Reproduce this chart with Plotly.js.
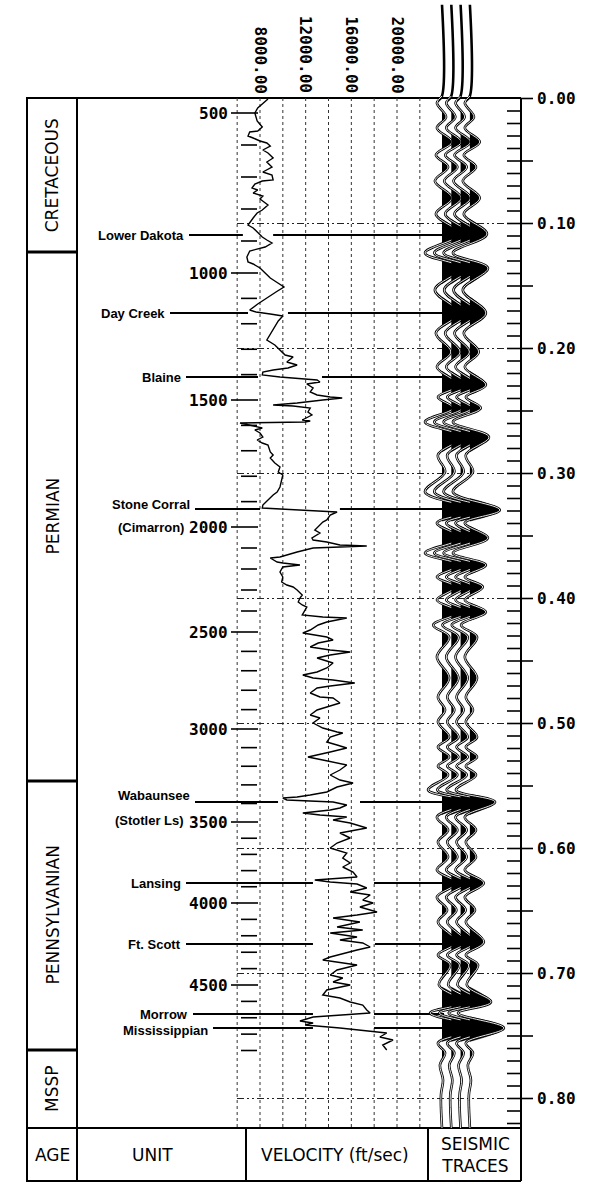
<!DOCTYPE html>
<html><head><meta charset="utf-8">
<script src="https://cdn.plot.ly/plotly-3.0.1.min.js"></script>
<style>html,body{margin:0;padding:0;background:#fff}</style>
</head><body><div id="chart" style="width:596px;height:1185px"></div>
<script>
// ---------------- DATA ----------------
// Interval velocity log (ft/sec) versus two-way time (s)
const velTime = [0.0004,0.0044,0.0076,0.0116,0.018,0.0228,0.026,0.0268,0.030,0.0316,0.034,0.0356,0.038,0.0412,0.0436,0.0476,0.0508,0.0548,0.0588,0.0612,0.0652,0.066,0.0684,0.0716,0.0732,0.0756,0.078,0.0804,0.0852,0.0892,0.0916,0.0956,0.1012,0.1036,0.1076,0.1108,0.1132,0.1156,0.1188,0.1204,0.122,0.1268,0.1308,0.1324,0.1356,0.1396,0.1436,0.146,0.1484,0.1508,0.1548,0.1596,0.1644,0.1692,0.1708,0.1724,0.174,0.178,0.1852,0.1932,0.1972,0.2012,0.2052,0.2068,0.2108,0.2132,0.2156,0.2172,0.2188,0.2212,0.2228,0.2252,0.2268,0.2284,0.2316,0.2348,0.2372,0.2388,0.2396,0.2412,0.2428,0.2436,0.2452,0.246,0.2476,0.2508,0.2532,0.2572,0.258,0.2588,0.2596,0.2612,0.2636,0.2652,0.2676,0.2708,0.2732,0.2756,0.2772,0.2828,0.2852,0.2876,0.2916,0.2948,0.2988,0.3012,0.3052,0.3108,0.3148,0.3172,0.3212,0.3252,0.3276,0.3292,0.3308,0.3332,0.3372,0.3388,0.3428,0.3452,0.3476,0.3516,0.3532,0.3548,0.3572,0.358,0.3588,0.3596,0.3628,0.3668,0.3676,0.3708,0.3716,0.3732,0.3748,0.3788,0.3828,0.3868,0.3892,0.3908,0.3932,0.3972,0.3996,0.4028,0.4052,0.4068,0.4132,0.4148,0.4156,0.4188,0.4212,0.4252,0.4276,0.4292,0.4308,0.4332,0.4356,0.4388,0.4412,0.4428,0.4452,0.4476,0.4516,0.4556,0.4588,0.4612,0.4636,0.4652,0.4676,0.47,0.4716,0.4756,0.4788,0.4796,0.4836,0.4868,0.4892,0.4932,0.4956,0.4996,0.5036,0.5068,0.5076,0.5108,0.5148,0.5172,0.5196,0.5228,0.5252,0.5268,0.5292,0.5316,0.5332,0.5372,0.5412,0.5452,0.5476,0.5508,0.5548,0.5572,0.5588,0.5596,0.5612,0.5628,0.5652,0.5676,0.5692,0.5716,0.5732,0.5748,0.5772,0.5796,0.5836,0.5876,0.5916,0.5956,0.5996,0.6036,0.6076,0.6116,0.6148,0.6188,0.6228,0.6252,0.6268,0.6284,0.6316,0.6348,0.6372,0.6412,0.6436,0.6468,0.6508,0.6532,0.6556,0.6588,0.6628,0.6652,0.6676,0.6708,0.6732,0.6756,0.6788,0.6812,0.6868,0.6892,0.6916,0.6932,0.6972,0.7012,0.7036,0.7068,0.7092,0.7132,0.7172,0.7196,0.7228,0.7252,0.7292,0.7316,0.7348,0.738,0.7396,0.7412,0.7436,0.7452,0.7468,0.7476,0.7508,0.7532,0.7572,0.7612];
const velocity = [8700,8200,7800,7550,7750,8200,7800,7100,6950,7400,8000,8600,8900,8250,8700,9150,8600,9050,8250,9050,9150,8200,7550,7300,7800,7400,8250,8000,8700,8200,7750,7400,6950,7400,7800,8200,8600,9050,8450,7800,7100,6850,6950,7400,8000,8450,8900,9300,9750,10100,9400,8550,7800,7100,7650,8900,10000,9600,9150,8600,9300,9750,10200,10900,10350,11250,10450,9150,8250,8200,9750,13000,13250,12100,12650,12400,13000,14150,15200,13500,12100,11250,9150,10900,12400,12200,12550,11700,12400,11950,6250,7100,8200,7550,8000,8250,7750,8200,8700,8900,9150,8900,9300,9750,9600,10000,9900,9750,9500,9150,8700,8250,8200,11250,14750,14150,13850,13500,13100,12800,13250,12550,12650,13850,15000,17350,15000,12650,11250,9750,8900,9500,10000,11500,10000,9750,10000,9900,10350,10900,11250,11700,11500,11350,11700,12100,11700,13500,15600,13850,13100,12400,11750,12650,13850,14400,13100,12400,14150,15900,14150,13000,14400,13850,13000,11750,12650,14400,16300,14150,13000,12400,13250,14400,15000,13850,13000,12400,13250,12650,13500,14750,15250,14150,13850,14750,15600,14150,13000,12200,13500,14750,15600,15000,14150,15000,16150,14750,13850,12400,11250,10000,10350,14400,15600,15000,14150,11750,13250,15600,14400,15900,17350,15000,15900,14750,14150,15600,15250,15900,15250,16150,16500,12800,14150,16500,17350,15900,17650,17000,17900,16750,18250,16500,14400,16750,14750,17000,14150,16500,15000,17000,17650,16500,14150,13500,15250,16500,14750,14150,15250,14400,15900,13850,13500,15000,15900,17000,17350,17650,12650,11500,12650,11950,15000,16500,18250,19100,18500,19650,18750,19100];

// Synthetic seismic trace: extremes (two-way time s, relative amplitude)
const seisTime = [-0.075,-0.002,0.0036,0.0148,0.0236,0.0348,0.0452,0.0548,0.0660,0.0796,0.0924,0.1084,0.1236,0.1356,0.1532,0.1716,0.1876,0.2028,0.2148,0.2292,0.2388,0.2476,0.2588,0.2708,0.2852,0.2988,0.3148,0.3292,0.3396,0.3516,0.3636,0.3732,0.3828,0.3908,0.4012,0.4108,0.4212,0.4308,0.4468,0.4636,0.4788,0.4892,0.4988,0.5108,0.5188,0.5268,0.5340,0.5412,0.5532,0.5628,0.5748,0.5852,0.5948,0.6068,0.6172,0.6276,0.6388,0.6492,0.6588,0.6748,0.6852,0.6932,0.7092,0.7228,0.7316,0.7436,0.7556,0.7636,0.7732,0.7852,0.7972,0.8236];
const seisAmp = [0,0,-0.15,0.12,-0.15,0.29,-0.18,0.18,-0.21,0.29,-0.18,0.50,-0.50,0.53,-0.21,0.47,-0.18,0.26,-0.15,0.47,-0.12,0.32,-0.50,0.56,-0.12,0.09,-0.50,0.88,-0.15,0.53,-0.50,0.47,-0.15,0.38,-0.15,0.47,-0.26,0.21,-0.15,0.21,-0.12,0.09,-0.12,0.21,-0.12,0.21,-0.12,0.18,-0.41,0.74,-0.15,0.18,-0.12,0.18,-0.15,0.41,-0.15,0.15,-0.12,0.41,-0.12,0.24,-0.09,0.62,-0.35,1.00,-0.12,0.09,-0.06,0.03,-0.03,0];
const seisTraceCount = 4;

// Formation tops
const formationNames = ['Lower Dakota','Day Creek','Blaine','Stone Corral','Wabaunsee','Lansing','Ft. Scott','Morrow','Mississippian'];
const formationSub   = ['','','','(Cimarron)','(Stotler Ls)','','','',''];
const formationTime  = [0.1092,0.1716,0.2228,0.3284,0.5628,0.6276,0.6764,0.7324,0.7436];
const formationGapVel = [[6500,9150],[6950,10450],[7825,13430],[8000,15000],[9580,16760],[12640,17990],[12640,18070],[12640,17990],[12640,17990]];

// Depth scale (ft) and the times at which its ticks sit
const depthTickFt = [500,600,700,800,900,1000,1100,1200,1300,1400,1500,1600,1700,1800,1900,2000,2100,2200,2300,2400,2500,2600,2700,2800,2900,3000,3100,3200,3300,3400,3500,3600,3700,3800,3900,4000,4100,4200,4300,4400,4500,4600,4700,4800,4900];
const depthTickTime = [0.0116,0.0372,0.0628,0.0884,0.1140,0.1396,0.1599,0.1802,0.2006,0.2209,0.2412,0.2615,0.2818,0.3022,0.3225,0.3428,0.3596,0.3764,0.3932,0.4100,0.4268,0.4423,0.4578,0.4734,0.4889,0.5044,0.5193,0.5342,0.5491,0.5640,0.5788,0.5918,0.6047,0.6177,0.6306,0.6436,0.6567,0.6698,0.6830,0.6961,0.7092,0.7223,0.7354,0.7485,0.7616];

const velTickVals = [8000,12000,16000,20000];
const velTickLabels = ['8000.00','12000.00','16000.00','20000.00'];
const velGridVals = [6000,8000,10000,12000,14000,16000,18000,20000,22000];

const timeLabelVals = [0,0.1,0.2,0.3,0.4,0.5,0.6,0.7,0.8];
const timeLabels = ['0.00','0.10','0.20','0.30','0.40','0.50','0.60','0.70','0.80'];

const ageNames = ['CRETACEOUS','PERMIAN','PENNSYLVANIAN','MSSP'];
const ageBoundTime = [0,0.1228,0.546,0.7612,0.8236];

const footerHeads = ['AGE','UNIT','VELOCITY (ft/sec)','SEISMIC<br>TRACES'];

// ---------------- GEOMETRY ----------------
const W=596, H=1185;
const T0PX=98.5, PXPS=1250;
const yRange=[(H-T0PX)/PXPS, -T0PX/PXPS];
const VPX=260, PXPERV=137/12000;
const xRange=[8000-VPX/PXPERV, 8000+(W-VPX)/PXPERV];
const TR0=442, TRSP=9.3, AMPPX=34;
const x2Range=[-TR0/TRSP, (W-TR0)/TRSP];
const gain=AMPPX/TRSP;
const PX=x=>x/W, PY=y=>1-y/H;
const pxToV=p=>8000+(p-VPX)/PXPERV;
const labelRightPx=[186,167,183,192,192,183,183,190,210];
const labelDyPx=[0,0,0,-5,-7,0,0,0,2];

const MONO={family:'DejaVu Sans Mono, monospace',size:16,color:'#000',weight:'bold'};
const LAB={family:'Liberation Sans, Arial, sans-serif',size:13,color:'#000',weight:'bold'};
const BIG={family:'DejaVu Sans, Arial, sans-serif',size:17,color:'#000'};

// ---------------- TRACES ----------------
const data=[];
data.push({type:'scatter',mode:'lines',x:velocity,y:velTime,xaxis:'x',yaxis:'y',
  line:{color:'#000',width:1.4},hoverinfo:'skip'});

for(let i=0;i<seisTraceCount;i++){
  const fx=[],fy=[];
  for(let k=1;k<seisAmp.length-1;k++){
    const a=seisAmp[k];
    if(a>0){
      const ap=seisAmp[k-1], an=seisAmp[k+1];
      const tL=seisTime[k-1]+(seisTime[k]-seisTime[k-1])*Math.abs(ap)/(Math.abs(ap)+a);
      const tR=seisTime[k]+(seisTime[k+1]-seisTime[k])*a/(a+Math.abs(an));
      fx.push(i,i+a*gain,i,null); fy.push(tL,seisTime[k],tR,null);
    }
  }
  data.push({type:'scatter',mode:'lines',x:fx,y:fy,xaxis:'x2',yaxis:'y',fill:'toself',fillcolor:'#000',
    line:{color:'#000',width:0.5,shape:'spline'},hoverinfo:'skip'});
  const wx=seisAmp.map(a=>i+a*gain);
  data.push({type:'scatter',mode:'lines',x:wx,y:seisTime,xaxis:'x2',yaxis:'y',
    line:{color:'#000',width:2.6,shape:'spline'},hoverinfo:'skip'});
  data.push({type:'scatter',mode:'lines',x:wx.slice(1),y:seisTime.slice(1),xaxis:'x2',yaxis:'y',
    line:{color:'#fff',width:0.9,shape:'spline'},hoverinfo:'skip'});
}

// ---------------- SHAPES ----------------
const shapes=[];
function L(x0,y0,x1,y1,o){
  const s={type:'line',x0,y0,x1,y1,xref:'paper',yref:'paper',layer:'below',line:{color:'#000',width:2}};
  if(o) Object.assign(s,o);
  shapes.push(s);
}
// frame
L(PX(27),PY(98),PX(521),PY(98));
L(PX(27),PY(97),PX(27),PY(1182));
L(PX(77),PY(98),PX(77),PY(1182));
L(PX(521),PY(98),PX(521),PY(1129));
L(PX(27),PY(1128),PX(521),PY(1128));
L(PX(27),PY(1181),PX(521),PY(1181));
[246,428,521].forEach(x=>L(PX(x),PY(1128),PX(x),PY(1181)));
for(let i=1;i<ageBoundTime.length-1;i++) L(PX(27),ageBoundTime[i],PX(77),ageBoundTime[i],{yref:'y',line:{color:'#000',width:3}});
// velocity grid
velGridVals.forEach(v=>L(v,PY(98),v,PY(1128),{xref:'x',line:{color:'#333',width:1,dash:'dot'}}));
// dash-dot time lines
timeLabelVals.slice(1).forEach(t=>L(PX(237),t,PX(521),t,{yref:'y',line:{color:'#222',width:1.2,dash:'7px,3px,2px,3px,2px,3px'}}));
// time ticks
for(let k=1;k<=82;k++){
  const t=k/100;
  L(PX(507),t,PX(k%5===0?533:521),t,{yref:'y',line:{color:'#000',width:1.6}});
}
L(PX(521),0,PX(533),0,{yref:'y',line:{color:'#000',width:1.6}});
// depth ticks
depthTickFt.forEach((d,i)=>{
  const t=depthTickTime[i];
  if(d%500===0) L(PX(231),t,PX(258),t,{yref:'y',line:{color:'#000',width:1.6}});
  else L(PX(241),t,PX(257),t,{yref:'y',line:{color:'#000',width:1.6}});
});
// formation lines
formationNames.forEach((n,i)=>{
  const t=formationTime[i];
  L(pxToV(labelRightPx[i]+3),t,formationGapVel[i][0],t,{xref:'x',yref:'y',line:{color:'#000',width:2}});
  L(formationGapVel[i][1],t,pxToV(444),t,{xref:'x',yref:'y',line:{color:'#000',width:2}});
});

// ---------------- ANNOTATIONS ----------------
const ann=[];
function A(o){ann.push(Object.assign({showarrow:false,xref:'paper',yref:'paper',xanchor:'center',yanchor:'middle'},o));}
timeLabelVals.forEach((t,i)=>A({x:PX(535),y:t,yref:'y',xanchor:'left',text:timeLabels[i],font:MONO}));
depthTickFt.forEach((d,i)=>{ if(d%500===0) A({x:PX(230),y:depthTickTime[i],yref:'y',xanchor:'right',text:String(d),font:MONO}); });
velTickVals.forEach((v,i)=>A({x:v,xref:'x',y:PY(95),yanchor:'bottom',textangle:90,text:velTickLabels[i],font:MONO}));
formationNames.forEach((n,i)=>{
  const t=formationTime[i]+labelDyPx[i]/PXPS;
  A({x:PX(labelRightPx[i]),y:t,yref:'y',xanchor:'right',text:n,font:LAB});
  if(formationSub[i]) A({x:PX(labelRightPx[i]-6),y:formationTime[i]+18/PXPS,yref:'y',xanchor:'right',text:formationSub[i],font:LAB});
});
ageNames.forEach((n,i)=>A({x:PX(52),y:(ageBoundTime[i]+ageBoundTime[i+1])/2,yref:'y',textangle:-90,text:n,font:BIG}));
const footX=[52,152,335,475];
footerHeads.forEach((h,i)=>A({x:PX(footX[i]),y:PY(1155),text:h,font:BIG}));

const layout={width:W,height:H,margin:{l:0,r:0,t:0,b:0,pad:0},paper_bgcolor:'#fff',plot_bgcolor:'rgba(0,0,0,0)',
  showlegend:false,
  xaxis:{range:xRange,visible:false,fixedrange:true},
  xaxis2:{range:x2Range,overlaying:'x',anchor:'y',visible:false},
  yaxis:{range:yRange,visible:false},
  shapes:shapes,annotations:ann};
Plotly.newPlot('chart',data,layout,{staticPlot:true,displayModeBar:false});
</script></body></html>
